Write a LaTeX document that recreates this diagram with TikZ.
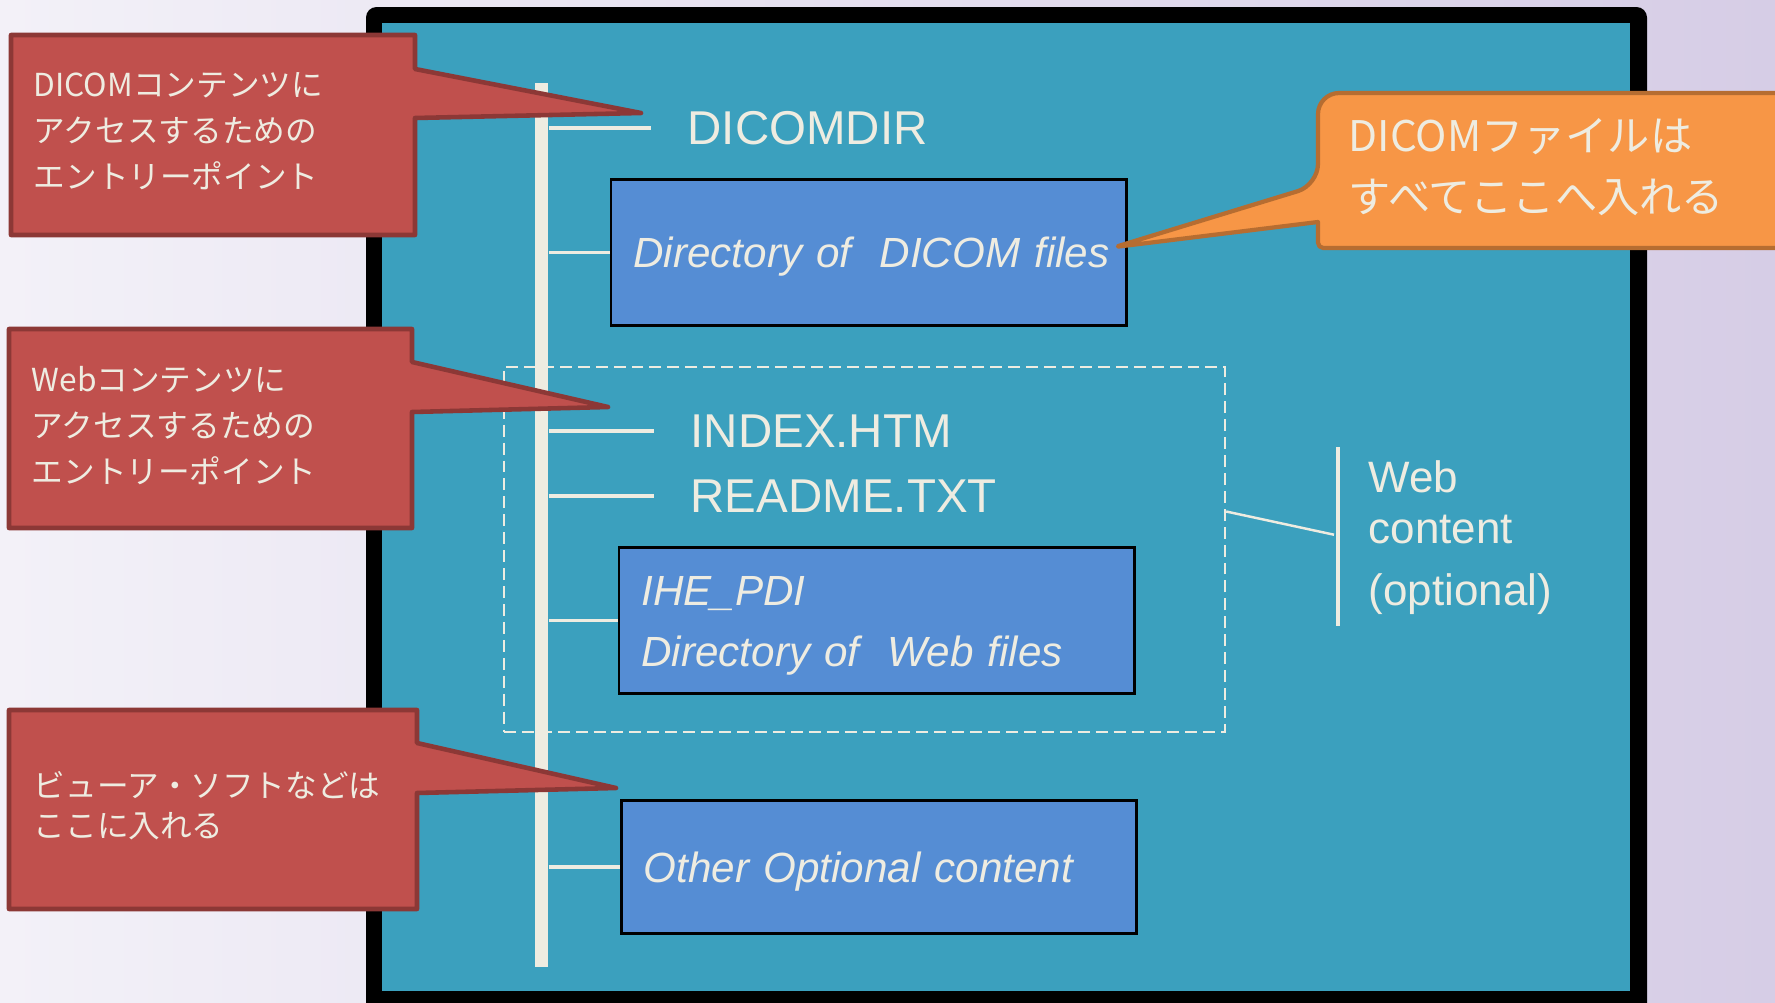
\documentclass[tikz,border=0pt]{standalone}
\usepackage{fontspec}
\setmainfont{Liberation Sans}
\newfontfamily\jpfont{Noto Sans CJK JP}
\usetikzlibrary{calc}

\definecolor{paper}{HTML}{EEECE1}
\definecolor{panelblue}{HTML}{3BA0BE}
\definecolor{boxblue}{HTML}{558DD4}
\definecolor{calred}{HTML}{C0504D}
\definecolor{calredline}{HTML}{8C3836}
\definecolor{calorange}{HTML}{F79646}
\definecolor{calorangeline}{HTML}{B66D31}
\definecolor{bgleft}{HTML}{F3F1F8}
\definecolor{bgright}{HTML}{D6CDE6}

\tikzset{
    branch/.style={draw=paper, line width=1.1pt},
    fname/.style={text=paper, inner sep=0pt, anchor=base west,
        font=\fontsize{13.5}{16}\selectfont},
    folder/.style={draw=black, line width=0.8pt, fill=boxblue, text=paper,
        inner xsep=6.4pt, inner ysep=0pt, text width=133.7pt, text depth=0pt, align=left,
        minimum height=41.3pt, font=\fontsize{12}{17.4}\selectfont\itshape},
    redcall/.style={fill=calred, draw=calredline, line width=1.3pt, line join=round},
    orangecall/.style={fill=calorange, draw=calorangeline, line width=1.2pt, line join=round},
    note/.style={text=paper, inner sep=0pt, anchor=base west, align=left}
}

\begin{document}
\begin{tikzpicture}[x=0.01cm, y=-0.01cm]
    \useasboundingbox (0,0) rectangle (1775,1003);
    \shade[left color=bgleft, right color=bgright] (0,0) rectangle (1775,1003);

    % disc frame
    \fill[black, rounded corners=3pt] (366,7) rectangle (1647,1020);
    \fill[panelblue] (382,23) rectangle (1630,991);

    \node[fill=paper, inner sep=0pt, minimum width=3.7pt, minimum height=251.5pt] (bar) at (541.5,525) {};
    \node[draw=paper, dash pattern=on 3.4pt off 1.7pt, line width=0.6pt,
          minimum width=205.1pt, minimum height=103.8pt] (webgroup) at (864.5,549.5) {};

    \node[fname] (dicomdir) at (687,144) {DICOMDIR};
    \node[fname] (indexhtm) at (690,447) {INDEX.HTM};
    \node[fname] (readme) at (690,512) {README.TXT};

    \node[folder] (dirdicom) at (868.5,252.5) {\mbox{Directory of\ \ DICOM files}};
    \node[folder, text depth=16.7pt] (dirweb) at (876.5,620.5) {IHE\_PDI\\\mbox{Directory of\ \ Web files}};
    \node[folder, minimum height=37.6pt] (other) at (879,867) {Other Optional content};

    \foreach \n in {dicomdir,indexhtm,readme}
        \draw[branch, shorten >=10.2pt] (bar.east |- \n.west) -- (\n.west);
    \foreach \n in {dirdicom,dirweb,other}
        \draw[branch] (bar.east |- \n.west) -- (\n.west);

    % web content bracket
    \coordinate (brtop) at (1338,447);
    \coordinate (brbot) at (1338,626);
    \draw[paper, line width=0.9pt] (brtop) -- (brbot);
    \draw[paper, line width=0.7pt] ($(webgroup.east)+(0,-38)$) -- ($(brtop)!0.49!(brbot)+(-4,0)$);
    \node[note, font=\fontsize{12.5}{14.5}\selectfont] (weblabel) at (1368,605)
        {Web\\content\\[2.9pt](optional)};

    % callouts
    \draw[redcall] (11,35) -- (415,35) -- (415,69) -- (641,113) -- (415,118) -- (415,235) -- (11,235) -- cycle;
    \node[note, font=\jpfont\fontsize{9}{13}\selectfont] (calldicom) at (33,188)
        {DICOMコンテンツに\\アクセスするための\\エントリーポイント};

    \draw[redcall] (9,329) -- (412,329) -- (412,362) -- (608,407) -- (412,412) -- (412,528) -- (9,528) -- cycle;
    \node[note, font=\jpfont\fontsize{9}{13}\selectfont] (callweb) at (31,483)
        {Webコンテンツに\\アクセスするための\\エントリーポイント};

    \draw[redcall] (9,710) -- (417,710) -- (417,743) -- (616,788) -- (417,793) -- (417,909) -- (9,909) -- cycle;
    \node[note, font=\jpfont\fontsize{9}{11.1}\selectfont] (callviewer) at (33,837)
        {ビューア・ソフトなどは\\ここに入れる};

    \draw[orangecall] (1115,247) -- (1318,222) [rounded corners=1.5pt] -- (1318,248)
        [rounded corners=6pt] -- (1800,248) -- (1800,93) -- (1318,93) -- (1318,185)
        [rounded corners=1.5pt] -- cycle;
    \node[note, font=\jpfont\fontsize{12}{17.3}\selectfont] (callfiles) at (1348,212)
        {DICOMファイルは\\すべてここへ入れる};
\end{tikzpicture}
\end{document}
